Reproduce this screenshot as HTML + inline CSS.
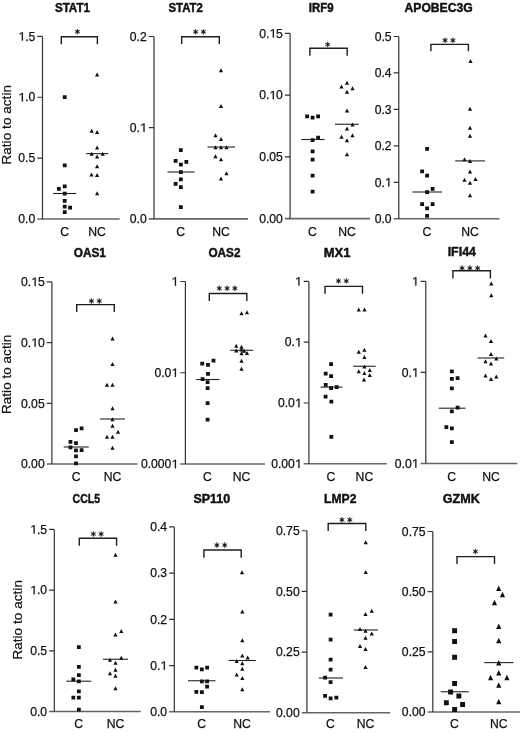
<!DOCTYPE html>
<html><head><meta charset="utf-8"><style>
html,body{margin:0;padding:0;background:#fff;}
svg{display:block;will-change:transform;}
body{-webkit-font-smoothing:antialiased;}
text{font-family:"Liberation Sans", sans-serif;fill:#111;}
.t{font-weight:bold;font-size:12.6px;fill:#111;stroke:#111;stroke-width:0.45px;}
.n{font-size:12.2px;stroke:#111;stroke-width:0.25px;}
.n1{fill:#111;stroke:#111;stroke-width:0.25px;}
.y{font-size:13.4px;stroke:#111;stroke-width:0.2px;}
.s{fill:#151515;stroke:#151515;stroke-width:0.4;}
.a{stroke:#333;stroke-width:1.2;fill:none;}
.ab{stroke:#666;stroke-width:1.6;fill:none;}
.b{stroke:#1e1e1e;stroke-width:1.4;fill:none;}
.m{stroke:#222;stroke-width:1.1;fill:none;}
.p{fill:#111;stroke:none;}
</style></head><body>
<svg width="520" height="732" viewBox="0 0 520 732">
<text class="y" transform="translate(11.4 124.8) rotate(-90)" x="-39.8" y="0" textLength="79.6" lengthAdjust="spacing">Ratio to actin</text>
<text class="y" transform="translate(11.4 374.4) rotate(-90)" x="-39.6" y="0" textLength="79.2" lengthAdjust="spacing">Ratio to actin</text>
<text class="y" transform="translate(21.5 619.85) rotate(-90)" x="-39.75" y="0" textLength="79.5" lengthAdjust="spacing">Ratio to actin</text>
<text x="54.88" y="12" class="t" textLength="35.1" lengthAdjust="spacingAndGlyphs">STAT1</text>
<path d="M37.3 219H119.7" class="ab"/>
<path d="M42.5 36.4V219" class="a"/>
<path d="M37.3 36.4H42.5M37.3 97.27H42.5M37.3 158.13H42.5" class="a"/>
<polygon points="21.8,40.6 21.8,33.23 19.67,34.58 19.67,33.57 21.88,32.21 22.89,32.21 22.89,40.6" class="n1"/><text x="25.13" y="40.6" class="n">.5</text>
<polygon points="21.8,101.47 21.8,94.1 19.67,95.45 19.67,94.44 21.88,93.07 22.89,93.07 22.89,101.47" class="n1"/><text x="25.13" y="101.47" class="n">.0</text>
<text x="18.34" y="162.33" class="n">0.5</text>
<text x="18.34" y="223.2" class="n">0.0</text>
<text x="64.6" y="235.8" class="n" text-anchor="middle">C</text>
<text x="97.1" y="235.8" class="n" text-anchor="middle">NC</text>
<path d="M61.3 44.3V36.8H97.4V44.3" class="b"/>
<path d="M77.4 28.8L76.9 30.83L74.89 30.25L76.4 31.7L74.89 33.15L76.9 32.57L77.4 34.6L77.9 32.57L79.91 33.15L78.4 31.7L79.91 30.25L77.9 30.83Z" class="s"/>
<path d="M53.1 193.5H76.25" class="m"/>
<path d="M86.2 153.6H108.3" class="m"/>
<path d="M62.8 95.3h3.8v3.8h-3.8zM62.8 163.55h3.8v3.8h-3.8zM62.8 184.55h3.8v3.8h-3.8zM56.95 187.05h3.8v3.8h-3.8zM62.8 191.8h3.8v3.8h-3.8zM62.8 198.9h3.8v3.8h-3.8zM62.8 204.8h3.8v3.8h-3.8zM68.2 205.8h3.8v3.8h-3.8zM62.8 210.2h3.8v3.8h-3.8z" class="p"/>
<path d="M97.1 72.5L99.2 76.5H95zM91.7 128.8L93.8 132.8H89.6zM97.1 129.9L99.2 133.9H95zM97.1 145.6L99.2 149.6H95zM91.7 151.8L93.8 155.8H89.6zM102.7 151.8L104.8 155.8H100.6zM97.1 154.5L99.2 158.5H95zM97.1 164.2L99.2 168.2H95zM91.5 172.6L93.6 176.6H89.4zM97.1 172.95L99.2 176.95H95zM97.1 191.3L99.2 195.3H95z" class="p"/>
<text x="168.46" y="12" class="t" textLength="34.44" lengthAdjust="spacingAndGlyphs">STAT2</text>
<path d="M148.8 218.9H248.1" class="ab"/>
<path d="M154 36.5V218.9" class="a"/>
<path d="M148.8 36.5H154M148.8 127.7H154" class="a"/>
<text x="129.84" y="40.7" class="n">0.2</text>
<text x="129.84" y="131.9" class="n">0.</text><polygon points="143.47,131.9 143.47,124.53 141.34,125.88 141.34,124.87 143.56,123.51 144.56,123.51 144.56,131.9" class="n1"/>
<text x="129.84" y="223.1" class="n">0.0</text>
<text x="180.75" y="235.8" class="n" text-anchor="middle">C</text>
<text x="221" y="235.8" class="n" text-anchor="middle">NC</text>
<path d="M181.7 44.1V36.7H219.3V44.1" class="b"/>
<path d="M195.65 28.9L195.15 30.93L193.14 30.35L194.65 31.8L193.14 33.25L195.15 32.67L195.65 34.7L196.15 32.67L198.16 33.25L196.65 31.8L198.16 30.35L196.15 30.93ZM203.45 28.9L202.95 30.93L200.94 30.35L202.45 31.8L200.94 33.25L202.95 32.67L203.45 34.7L203.95 32.67L205.96 33.25L204.45 31.8L205.96 30.35L203.95 30.93Z" class="s"/>
<path d="M167.5 172H194.5" class="m"/>
<path d="M207.5 147H235" class="m"/>
<path d="M178.95 148.3h3.8v3.8h-3.8zM173.7 159.05h3.8v3.8h-3.8zM184.45 160.05h3.8v3.8h-3.8zM178.95 162.8h3.8v3.8h-3.8zM178.95 170.3h3.8v3.8h-3.8zM173.7 182.05h3.8v3.8h-3.8zM178.95 177.55h3.8v3.8h-3.8zM178.95 185.3h3.8v3.8h-3.8zM178.95 205.3h3.8v3.8h-3.8z" class="p"/>
<path d="M221 68.2L223.1 72.2H218.9zM221 103.95L223.1 107.95H218.9zM215.5 133.2L217.6 137.2H213.4zM221 136.95L223.1 140.95H218.9zM215.5 145.2L217.6 149.2H213.4zM221 145.2L223.1 149.2H218.9zM226.5 145.2L228.6 149.2H224.4zM215.5 154.2L217.6 158.2H213.4zM221 157.2L223.1 161.2H218.9zM226.5 171.2L228.6 175.2H224.4zM221 176.45L223.1 180.45H218.9z" class="p"/>
<text x="308.74" y="12" class="t" textLength="24.8" lengthAdjust="spacingAndGlyphs">IRF9</text>
<path d="M284.9 218.6H369.9" class="ab"/>
<path d="M290.1 33.4V218.6" class="a"/>
<path d="M284.9 33.4H290.1M284.9 95.13H290.1M284.9 156.87H290.1" class="a"/>
<text x="259.16" y="37.6" class="n">0.</text><polygon points="272.78,37.6 272.78,30.23 270.66,31.58 270.66,30.57 272.87,29.21 273.88,29.21 273.88,37.6" class="n1"/><text x="276.11" y="37.6" class="n">5</text>
<text x="259.16" y="99.33" class="n">0.</text><polygon points="272.78,99.33 272.78,91.96 270.66,93.32 270.66,92.3 272.87,90.94 273.88,90.94 273.88,99.33" class="n1"/><text x="276.11" y="99.33" class="n">0</text>
<text x="259.16" y="161.07" class="n">0.05</text>
<text x="259.16" y="222.8" class="n">0.00</text>
<text x="312.5" y="235.8" class="n" text-anchor="middle">C</text>
<text x="347" y="235.8" class="n" text-anchor="middle">NC</text>
<path d="M309.9 55.8V48.3H347.2V55.8" class="b"/>
<path d="M327.7 41.6L327.2 43.63L325.19 43.05L326.7 44.5L325.19 45.95L327.2 45.37L327.7 47.4L328.2 45.37L330.21 45.95L328.7 44.5L330.21 43.05L328.2 43.63Z" class="s"/>
<path d="M301.25 139.5H324.5" class="m"/>
<path d="M335 124.25H358.75" class="m"/>
<path d="M305.2 114.55h3.8v3.8h-3.8zM310.7 115.8h3.8v3.8h-3.8zM316.2 114.55h3.8v3.8h-3.8zM316.2 135.8h3.8v3.8h-3.8zM310.7 138.3h3.8v3.8h-3.8zM310.7 149.55h3.8v3.8h-3.8zM310.7 157.8h3.8v3.8h-3.8zM310.7 173.8h3.8v3.8h-3.8zM310.7 189.8h3.8v3.8h-3.8z" class="p"/>
<path d="M347 80.7L349.1 84.7H344.9zM341.5 84.45L343.6 88.45H339.4zM352.5 86.2L354.6 90.2H350.4zM347 89.7L349.1 93.7H344.9zM347 108.45L349.1 112.45H344.9zM352.5 122.45L354.6 126.45H350.4zM347 126.45L349.1 130.45H344.9zM352.5 133.2L354.6 137.2H350.4zM341.5 134.7L343.6 138.7H339.4zM347 138.2L349.1 142.2H344.9zM347 152.2L349.1 156.2H344.9z" class="p"/>
<text x="404.52" y="12" class="t" textLength="68.18" lengthAdjust="spacingAndGlyphs">APOBEC3G</text>
<path d="M393.6 218.8H499.4" class="ab"/>
<path d="M398.8 36.5V218.8" class="a"/>
<path d="M393.6 36.5H398.8M393.6 72.96H398.8M393.6 109.42H398.8M393.6 145.88H398.8M393.6 182.34H398.8" class="a"/>
<text x="374.64" y="40.7" class="n">0.5</text>
<text x="374.64" y="77.16" class="n">0.4</text>
<text x="374.64" y="113.62" class="n">0.3</text>
<text x="374.64" y="150.08" class="n">0.2</text>
<text x="374.64" y="186.54" class="n">0.</text><polygon points="388.27,186.54 388.27,179.17 386.14,180.52 386.14,179.51 388.36,178.15 389.36,178.15 389.36,186.54" class="n1"/>
<text x="374.64" y="223" class="n">0.0</text>
<text x="427" y="235.8" class="n" text-anchor="middle">C</text>
<text x="470" y="235.8" class="n" text-anchor="middle">NC</text>
<path d="M430.9 51.3V44.4H468.4V51.3" class="b"/>
<path d="M445.1 37.4L444.6 39.43L442.59 38.85L444.1 40.3L442.59 41.75L444.6 41.17L445.1 43.2L445.6 41.17L447.61 41.75L446.1 40.3L447.61 38.85L445.6 39.43ZM452.9 37.4L452.4 39.43L450.39 38.85L451.9 40.3L450.39 41.75L452.4 41.17L452.9 43.2L453.4 41.17L455.41 41.75L453.9 40.3L455.41 38.85L453.4 39.43Z" class="s"/>
<path d="M412.5 192H442" class="m"/>
<path d="M455.2 160.9H485" class="m"/>
<path d="M425.2 147.05h3.8v3.8h-3.8zM420.2 169.55h3.8v3.8h-3.8zM425.2 173.8h3.8v3.8h-3.8zM430.7 187.05h3.8v3.8h-3.8zM425.2 190.3h3.8v3.8h-3.8zM420.2 202.3h3.8v3.8h-3.8zM430.7 202.3h3.8v3.8h-3.8zM425.2 206.55h3.8v3.8h-3.8zM425.2 214.05h3.8v3.8h-3.8z" class="p"/>
<path d="M470.5 58.95L472.6 62.95H468.4zM470 106.7L472.1 110.7H467.9zM470 125.7L472.1 129.7H467.9zM470 133.7L472.1 137.7H467.9zM464.5 157.2L466.6 161.2H462.4zM470 158.95L472.1 162.95H467.9zM470 169.45L472.1 173.45H467.9zM464.5 177.7L466.6 181.7H462.4zM475.5 176.95L477.6 180.95H473.4zM470 180.7L472.1 184.7H467.9zM470 193.2L472.1 197.2H467.9z" class="p"/>
<text x="73.74" y="257.2" class="t" textLength="32.16" lengthAdjust="spacingAndGlyphs">OAS1</text>
<path d="M46.7 464H137.6" class="ab"/>
<path d="M51.9 281.9V464" class="a"/>
<path d="M46.7 281.9H51.9M46.7 342.6H51.9M46.7 403.3H51.9" class="a"/>
<text x="20.96" y="286.1" class="n">0.</text><polygon points="34.58,286.1 34.58,278.73 32.46,280.08 32.46,279.07 34.67,277.71 35.68,277.71 35.68,286.1" class="n1"/><text x="37.91" y="286.1" class="n">5</text>
<text x="20.96" y="346.8" class="n">0.</text><polygon points="34.58,346.8 34.58,339.43 32.46,340.78 32.46,339.77 34.67,338.41 35.68,338.41 35.68,346.8" class="n1"/><text x="37.91" y="346.8" class="n">0</text>
<text x="20.96" y="407.5" class="n">0.05</text>
<text x="20.96" y="468.2" class="n">0.00</text>
<text x="76.25" y="481" class="n" text-anchor="middle">C</text>
<text x="112.5" y="481" class="n" text-anchor="middle">NC</text>
<path d="M76.7 311.9V304.6H114.3V311.9" class="b"/>
<path d="M91.45 298.1L90.95 300.13L88.94 299.55L90.45 301L88.94 302.45L90.95 301.87L91.45 303.9L91.95 301.87L93.96 302.45L92.45 301L93.96 299.55L91.95 300.13ZM99.25 298.1L98.75 300.13L96.74 299.55L98.25 301L96.74 302.45L98.75 301.87L99.25 303.9L99.75 301.87L101.76 302.45L100.25 301L101.76 299.55L99.75 300.13Z" class="s"/>
<path d="M63.75 447H88.75" class="m"/>
<path d="M100 419H125" class="m"/>
<path d="M74.1 428.3h3.8v3.8h-3.8zM79.7 426.5h3.8v3.8h-3.8zM68.6 440h3.8v3.8h-3.8zM74.1 441.2h3.8v3.8h-3.8zM68.6 445.4h3.8v3.8h-3.8zM74.1 448.5h3.8v3.8h-3.8zM79.7 448.3h3.8v3.8h-3.8zM74.1 454.5h3.8v3.8h-3.8zM74.1 461.4h3.8v3.8h-3.8z" class="p"/>
<path d="M112.5 336.45L114.6 340.45H110.4zM112.5 361.95L114.6 365.95H110.4zM107 382.7L109.1 386.7H104.9zM112.5 382.7L114.6 386.7H110.4zM112.5 406.2L114.6 410.2H110.4zM112.5 417.2L114.6 421.2H110.4zM112.5 423.7L114.6 427.7H110.4zM118 429.7L120.1 433.7H115.9zM107 434.7L109.1 438.7H104.9zM112.5 434.7L114.6 438.7H110.4zM112.5 445.7L114.6 449.7H110.4z" class="p"/>
<text x="208.46" y="257.2" class="t" textLength="32.02" lengthAdjust="spacingAndGlyphs">OAS2</text>
<path d="M180.2 464H264.9" class="ab"/>
<path d="M185.4 281.5V464" class="a"/>
<path d="M180.2 281.5H185.4M180.2 372.75H185.4" class="a"/>
<polygon points="174.87,285.7 174.87,278.33 172.74,279.68 172.74,278.67 174.96,277.31 175.96,277.31 175.96,285.7" class="n1"/>
<text x="154.46" y="376.95" class="n">0.0</text><polygon points="174.87,376.95 174.87,369.58 172.74,370.93 172.74,369.92 174.96,368.56 175.96,368.56 175.96,376.95" class="n1"/>
<text x="140.89" y="468.2" class="n">0.000</text><polygon points="174.87,468.2 174.87,460.83 172.74,462.18 172.74,461.17 174.96,459.81 175.96,459.81 175.96,468.2" class="n1"/>
<text x="207.5" y="481" class="n" text-anchor="middle">C</text>
<text x="241.5" y="481" class="n" text-anchor="middle">NC</text>
<path d="M209.3 301V293.5H246.8V301" class="b"/>
<path d="M219.3 285.4L218.8 287.43L216.79 286.85L218.3 288.3L216.79 289.75L218.8 289.17L219.3 291.2L219.8 289.17L221.81 289.75L220.3 288.3L221.81 286.85L219.8 287.43ZM227.1 285.4L226.6 287.43L224.59 286.85L226.1 288.3L224.59 289.75L226.6 289.17L227.1 291.2L227.6 289.17L229.61 289.75L228.1 288.3L229.61 286.85L227.6 287.43ZM234.9 285.4L234.4 287.43L232.39 286.85L233.9 288.3L232.39 289.75L234.4 289.17L234.9 291.2L235.4 289.17L237.41 289.75L235.9 288.3L237.41 286.85L235.4 287.43Z" class="s"/>
<path d="M196.25 379.5H219.5" class="m"/>
<path d="M230.25 350.25H253.1" class="m"/>
<path d="M200.3 361.8h3.8v3.8h-3.8zM206.1 363.05h3.8v3.8h-3.8zM211.6 358.7h3.8v3.8h-3.8zM206.1 372.05h3.8v3.8h-3.8zM200.7 377.3h3.8v3.8h-3.8zM205.7 380.3h3.8v3.8h-3.8zM205.7 386.3h3.8v3.8h-3.8zM205.7 401.3h3.8v3.8h-3.8zM205.7 417.8h3.8v3.8h-3.8z" class="p"/>
<path d="M241.5 311.2L243.6 315.2H239.4zM247 310.2L249.1 314.2H244.9zM236.25 343.8L238.35 347.8H234.15zM241.5 344.7L243.6 348.7H239.4zM236.25 348.6L238.35 352.6H234.15zM241.5 347.6L243.6 351.6H239.4zM244.1 348.8L246.2 352.8H242zM241.5 351.3L243.6 355.3H239.4zM247 350.95L249.1 354.95H244.9zM241.5 358.8L243.6 362.8H239.4zM241.5 366.7L243.6 370.7H239.4z" class="p"/>
<text x="323.74" y="257.2" class="t" textLength="26.66" lengthAdjust="spacingAndGlyphs">MX1</text>
<path d="M303.7 463.8H386.7" class="ab"/>
<path d="M308.9 281.4V463.8" class="a"/>
<path d="M303.7 281.4H308.9M303.7 342.2H308.9M303.7 403H308.9" class="a"/>
<polygon points="298.37,285.6 298.37,278.23 296.24,279.58 296.24,278.57 298.46,277.21 299.46,277.21 299.46,285.6" class="n1"/>
<text x="284.74" y="346.4" class="n">0.</text><polygon points="298.37,346.4 298.37,339.03 296.24,340.38 296.24,339.37 298.46,338.01 299.46,338.01 299.46,346.4" class="n1"/>
<text x="277.96" y="407.2" class="n">0.0</text><polygon points="298.37,407.2 298.37,399.83 296.24,401.18 296.24,400.17 298.46,398.81 299.46,398.81 299.46,407.2" class="n1"/>
<text x="271.17" y="468" class="n">0.00</text><polygon points="298.37,468 298.37,460.63 296.24,461.98 296.24,460.97 298.46,459.61 299.46,459.61 299.46,468" class="n1"/>
<text x="331" y="481" class="n" text-anchor="middle">C</text>
<text x="364.4" y="481" class="n" text-anchor="middle">NC</text>
<path d="M325 293.7V286.4H362.5V293.7" class="b"/>
<path d="M338.5 278.1L338 280.13L335.99 279.55L337.5 281L335.99 282.45L338 281.87L338.5 283.9L339 281.87L341.01 282.45L339.5 281L341.01 279.55L339 280.13ZM346.3 278.1L345.8 280.13L343.79 279.55L345.3 281L343.79 282.45L345.8 281.87L346.3 283.9L346.8 281.87L348.81 282.45L347.3 281L348.81 279.55L346.8 280.13Z" class="s"/>
<path d="M320.5 387.1H342.5" class="m"/>
<path d="M353.1 366.25H375.6" class="m"/>
<path d="M329.2 362.3h3.8v3.8h-3.8zM323.8 371.8h3.8v3.8h-3.8zM329.2 374.3h3.8v3.8h-3.8zM323.8 383.05h3.8v3.8h-3.8zM329.2 386.3h3.8v3.8h-3.8zM334.8 385.2h3.8v3.8h-3.8zM323.7 394.8h3.8v3.8h-3.8zM329.45 399.8h3.8v3.8h-3.8zM329.45 435.05h3.8v3.8h-3.8z" class="p"/>
<path d="M358.75 307.45L360.85 311.45H356.65zM364.5 307.45L366.6 311.45H362.4zM358.75 349.7L360.85 353.7H356.65zM364.4 347.8L366.5 351.8H362.3zM364.4 355.1L366.5 359.1H362.3zM364.4 364.45L366.5 368.45H362.3zM358.75 369.2L360.85 373.2H356.65zM364.4 370.95L366.5 374.95H362.3zM369.75 367.95L371.85 371.95H367.65zM369.75 372.95L371.85 376.95H367.65zM364 377.6L366.1 381.6H361.9z" class="p"/>
<text x="447.66" y="255.5" class="t" textLength="28.3" lengthAdjust="spacingAndGlyphs">IFI44</text>
<path d="M420.6 463.5H517.25" class="ab"/>
<path d="M425.8 281.4V463.5" class="a"/>
<path d="M420.6 281.4H425.8M420.6 372.45H425.8" class="a"/>
<polygon points="415.27,285.6 415.27,278.23 413.14,279.58 413.14,278.57 415.36,277.21 416.36,277.21 416.36,285.6" class="n1"/>
<text x="401.64" y="376.65" class="n">0.</text><polygon points="415.27,376.65 415.27,369.28 413.14,370.63 413.14,369.62 415.36,368.26 416.36,368.26 416.36,376.65" class="n1"/>
<text x="394.86" y="467.7" class="n">0.0</text><polygon points="415.27,467.7 415.27,460.33 413.14,461.68 413.14,460.67 415.36,459.31 416.36,459.31 416.36,467.7" class="n1"/>
<text x="451.75" y="481" class="n" text-anchor="middle">C</text>
<text x="491" y="481" class="n" text-anchor="middle">NC</text>
<path d="M452.9 278.5V270.7H490.4V278.5" class="b"/>
<path d="M462.05 265.2L461.55 267.23L459.54 266.65L461.05 268.1L459.54 269.55L461.55 268.97L462.05 271L462.55 268.97L464.56 269.55L463.05 268.1L464.56 266.65L462.55 267.23ZM469.85 265.2L469.35 267.23L467.34 266.65L468.85 268.1L467.34 269.55L469.35 268.97L469.85 271L470.35 268.97L472.36 269.55L470.85 268.1L472.36 266.65L470.35 267.23ZM477.65 265.2L477.15 267.23L475.14 266.65L476.65 268.1L475.14 269.55L477.15 268.97L477.65 271L478.15 268.97L480.16 269.55L478.65 268.1L480.16 266.65L478.15 267.23Z" class="s"/>
<path d="M438.75 408.2H465.5" class="m"/>
<path d="M477.6 358H504.2" class="m"/>
<path d="M449.95 369.55h3.8v3.8h-3.8zM449.95 377.05h3.8v3.8h-3.8zM455.7 376.3h3.8v3.8h-3.8zM449.95 386.55h3.8v3.8h-3.8zM455.7 405.8h3.8v3.8h-3.8zM449.95 409.55h3.8v3.8h-3.8zM444.45 425.3h3.8v3.8h-3.8zM449.95 426.55h3.8v3.8h-3.8zM449.95 440.3h3.8v3.8h-3.8z" class="p"/>
<path d="M491.25 281.45L493.35 285.45H489.15zM491.25 293.2L493.35 297.2H489.15zM485.5 333.6L487.6 337.6H483.4zM491 339.1L493.1 343.1H488.9zM491 352L493.1 356H488.9zM496.3 356.4L498.4 360.4H494.2zM485.5 359.2L487.6 363.2H483.4zM491 361.5L493.1 365.5H488.9zM485.5 373.4L487.6 377.4H483.4zM491 377L493.1 381H488.9zM496.3 374.4L498.4 378.4H494.2z" class="p"/>
<text x="72.6" y="503.2" class="t" textLength="27.44" lengthAdjust="spacingAndGlyphs">CCL5</text>
<path d="M49.1 711.5H140.8" class="ab"/>
<path d="M54.3 529.4V711.5" class="a"/>
<path d="M49.1 529.4H54.3M49.1 590.1H54.3M49.1 650.8H54.3" class="a"/>
<polygon points="33.6,533.6 33.6,526.23 31.47,527.58 31.47,526.57 33.68,525.21 34.69,525.21 34.69,533.6" class="n1"/><text x="36.93" y="533.6" class="n">.5</text>
<polygon points="33.6,594.3 33.6,586.93 31.47,588.28 31.47,587.27 33.68,585.91 34.69,585.91 34.69,594.3" class="n1"/><text x="36.93" y="594.3" class="n">.0</text>
<text x="30.14" y="655" class="n">0.5</text>
<text x="30.14" y="715.7" class="n">0.0</text>
<text x="78.75" y="728.3" class="n" text-anchor="middle">C</text>
<text x="115.5" y="728.3" class="n" text-anchor="middle">NC</text>
<path d="M79.3 545.8V538.3H116.6V545.8" class="b"/>
<path d="M93.35 531.1L92.85 533.13L90.84 532.55L92.35 534L90.84 535.45L92.85 534.87L93.35 536.9L93.85 534.87L95.86 535.45L94.35 534L95.86 532.55L93.85 533.13ZM101.15 531.1L100.65 533.13L98.64 532.55L100.15 534L98.64 535.45L100.65 534.87L101.15 536.9L101.65 534.87L103.66 535.45L102.15 534L103.66 532.55L101.65 533.13Z" class="s"/>
<path d="M66.25 681.2H91.25" class="m"/>
<path d="M103 659.25H128" class="m"/>
<path d="M76.95 645.3h3.8v3.8h-3.8zM76.95 665.05h3.8v3.8h-3.8zM76.95 673.3h3.8v3.8h-3.8zM71.45 677.55h3.8v3.8h-3.8zM76.95 679.55h3.8v3.8h-3.8zM76.95 689.55h3.8v3.8h-3.8zM71.45 695.8h3.8v3.8h-3.8zM76.95 695.8h3.8v3.8h-3.8zM76.95 707.8h3.8v3.8h-3.8z" class="p"/>
<path d="M115.5 552.7L117.6 556.7H113.4zM115.5 599.45L117.6 603.45H113.4zM121.25 628.95L123.35 632.95H119.15zM115.5 632.45L117.6 636.45H113.4zM121.25 655.7L123.35 659.7H119.15zM110 657.7L112.1 661.7H107.9zM115.5 660.7L117.6 664.7H113.4zM115.5 667.7L117.6 671.7H113.4zM110 671.2L112.1 675.2H107.9zM115.5 673.7L117.6 677.7H113.4zM115.5 686.2L117.6 690.2H113.4z" class="p"/>
<text x="193.46" y="503.2" class="t" textLength="36.66" lengthAdjust="spacingAndGlyphs">SP110</text>
<path d="M169.1 711.8H270.1" class="ab"/>
<path d="M174.3 526.9V711.8" class="a"/>
<path d="M169.1 526.9H174.3M169.1 573.12H174.3M169.1 619.35H174.3M169.1 665.57H174.3" class="a"/>
<text x="150.14" y="531.1" class="n">0.4</text>
<text x="150.14" y="577.33" class="n">0.3</text>
<text x="150.14" y="623.55" class="n">0.2</text>
<text x="150.14" y="669.77" class="n">0.</text><polygon points="163.77,669.77 163.77,662.41 161.64,663.76 161.64,662.75 163.86,661.38 164.86,661.38 164.86,669.77" class="n1"/>
<text x="150.14" y="716" class="n">0.0</text>
<text x="201.75" y="728.3" class="n" text-anchor="middle">C</text>
<text x="242" y="728.3" class="n" text-anchor="middle">NC</text>
<path d="M203.9 557.8V550H241.2V557.8" class="b"/>
<path d="M216.9 542.2L216.4 544.23L214.39 543.65L215.9 545.1L214.39 546.55L216.4 545.97L216.9 548L217.4 545.97L219.41 546.55L217.9 545.1L219.41 543.65L217.4 544.23ZM224.7 542.2L224.2 544.23L222.19 543.65L223.7 545.1L222.19 546.55L224.2 545.97L224.7 548L225.2 545.97L227.21 546.55L225.7 545.1L227.21 543.65L225.2 544.23Z" class="s"/>
<path d="M188 680.75H215.5" class="m"/>
<path d="M228.6 660.5H255.9" class="m"/>
<path d="M194.45 665.8h3.8v3.8h-3.8zM199.95 667.55h3.8v3.8h-3.8zM205.2 665.8h3.8v3.8h-3.8zM199.95 679.55h3.8v3.8h-3.8zM205.2 679.55h3.8v3.8h-3.8zM205.2 684.8h3.8v3.8h-3.8zM194.45 690.05h3.8v3.8h-3.8zM199.95 690.3h3.8v3.8h-3.8zM199.95 705.3h3.8v3.8h-3.8z" class="p"/>
<path d="M242 570.2L244.1 574.2H239.9zM242.3 609.6L244.4 613.6H240.2zM242.3 638.2L244.4 642.2H240.2zM242.3 653.4L244.4 657.4H240.2zM247.7 655.6L249.8 659.6H245.6zM236.7 659L238.8 663H234.6zM242.3 661.2L244.4 665.2H240.2zM242.3 666.8L244.4 670.8H240.2zM236.7 672.5L238.8 676.5H234.6zM242.3 675.9L244.4 679.9H240.2zM242.3 687.3L244.4 691.3H240.2z" class="p"/>
<text x="324.1" y="503.2" class="t" textLength="32.3" lengthAdjust="spacingAndGlyphs">LMP2</text>
<path d="M301.7 712.8H390.1" class="ab"/>
<path d="M306.9 530.75V712.8" class="a"/>
<path d="M301.7 530.75H306.9M301.7 591.43H306.9M301.7 652.12H306.9" class="a"/>
<text x="275.96" y="534.95" class="n">0.75</text>
<text x="275.96" y="595.63" class="n">0.50</text>
<text x="275.96" y="656.32" class="n">0.25</text>
<text x="275.96" y="717" class="n">0.00</text>
<text x="330.5" y="728.3" class="n" text-anchor="middle">C</text>
<text x="365.5" y="728.3" class="n" text-anchor="middle">NC</text>
<path d="M328.2 531V523.5H365.8V531" class="b"/>
<path d="M341.95 516.9L341.45 518.93L339.44 518.35L340.95 519.8L339.44 521.25L341.45 520.67L341.95 522.7L342.45 520.67L344.46 521.25L342.95 519.8L344.46 518.35L342.45 518.93ZM349.75 516.9L349.25 518.93L347.24 518.35L348.75 519.8L347.24 521.25L349.25 520.67L349.75 522.7L350.25 520.67L352.26 521.25L350.75 519.8L352.26 518.35L350.25 518.93Z" class="s"/>
<path d="M318.75 678H343" class="m"/>
<path d="M353.75 630H378" class="m"/>
<path d="M328.7 612.8h3.8v3.8h-3.8zM328.7 637.8h3.8v3.8h-3.8zM328.7 657.8h3.8v3.8h-3.8zM328.7 667.8h3.8v3.8h-3.8zM323.2 675.8h3.8v3.8h-3.8zM328.7 680.3h3.8v3.8h-3.8zM323.2 694.05h3.8v3.8h-3.8zM328.7 696.55h3.8v3.8h-3.8zM334.45 695.8h3.8v3.8h-3.8z" class="p"/>
<path d="M365.75 540.2L367.85 544.2H363.65zM365.75 569.95L367.85 573.95H363.65zM371.75 608.7L373.85 612.7H369.65zM365.5 611.95L367.6 615.95H363.4zM360 626.95L362.1 630.95H357.9zM365.5 628.7L367.6 632.7H363.4zM371.75 631.45L373.85 635.45H369.65zM365.5 635.7L367.6 639.7H363.4zM360 643.95L362.1 647.95H357.9zM365.5 646.95L367.6 650.95H363.4zM365.5 664.95L367.6 668.95H363.4z" class="p"/>
<text x="442.74" y="503.2" class="t" textLength="37.02" lengthAdjust="spacingAndGlyphs">GZMK</text>
<path d="M427.6 712H520" class="ab"/>
<path d="M432.8 531.5V712" class="a"/>
<path d="M427.6 531.5H432.8M427.6 591.67H432.8M427.6 651.83H432.8" class="a"/>
<text x="401.86" y="535.7" class="n">0.75</text>
<text x="401.86" y="595.87" class="n">0.50</text>
<text x="401.86" y="656.03" class="n">0.25</text>
<text x="401.86" y="716.2" class="n">0.00</text>
<text x="454.5" y="728.3" class="n" text-anchor="middle">C</text>
<text x="498.75" y="728.3" class="n" text-anchor="middle">NC</text>
<path d="M457 564.1V556.6H494.5V564.1" class="b"/>
<path d="M475.4 548.6L474.9 550.63L472.89 550.05L474.4 551.5L472.89 552.95L474.9 552.37L475.4 554.4L475.9 552.37L477.91 552.95L476.4 551.5L477.91 550.05L475.9 550.63Z" class="s"/>
<path d="M440.75 691.75H468.75" class="m"/>
<path d="M484.15 662.6H513.5" class="m"/>
<path d="M452.15 628.25h4.9v4.9h-4.9zM452.15 639h4.9v4.9h-4.9zM452.15 654.75h4.9v4.9h-4.9zM452.15 681h4.9v4.9h-4.9zM448.15 689.5h4.9v4.9h-4.9zM456.4 693.5h4.9v4.9h-4.9zM443.9 700.25h4.9v4.9h-4.9zM460.15 702h4.9v4.9h-4.9zM452.15 707h4.9v4.9h-4.9z" class="p"/>
<path d="M498.7 585.61L501.3 591.01H496.1zM502.5 591.86L505.1 597.26H499.9zM494.5 599.86L497.1 605.26H491.9zM498.75 623.61L501.35 629.01H496.15zM498.75 637.86L501.35 643.26H496.15zM498.75 660.11L501.35 665.51H496.15zM498.75 670.06L501.35 675.46H496.15zM490.6 674.86L493.2 680.26H488zM506.9 674.86L509.5 680.26H504.3zM498.75 682.36L501.35 687.76H496.15zM498.75 698.76L501.35 704.16H496.15z" class="p"/>
</svg>
</body></html>
